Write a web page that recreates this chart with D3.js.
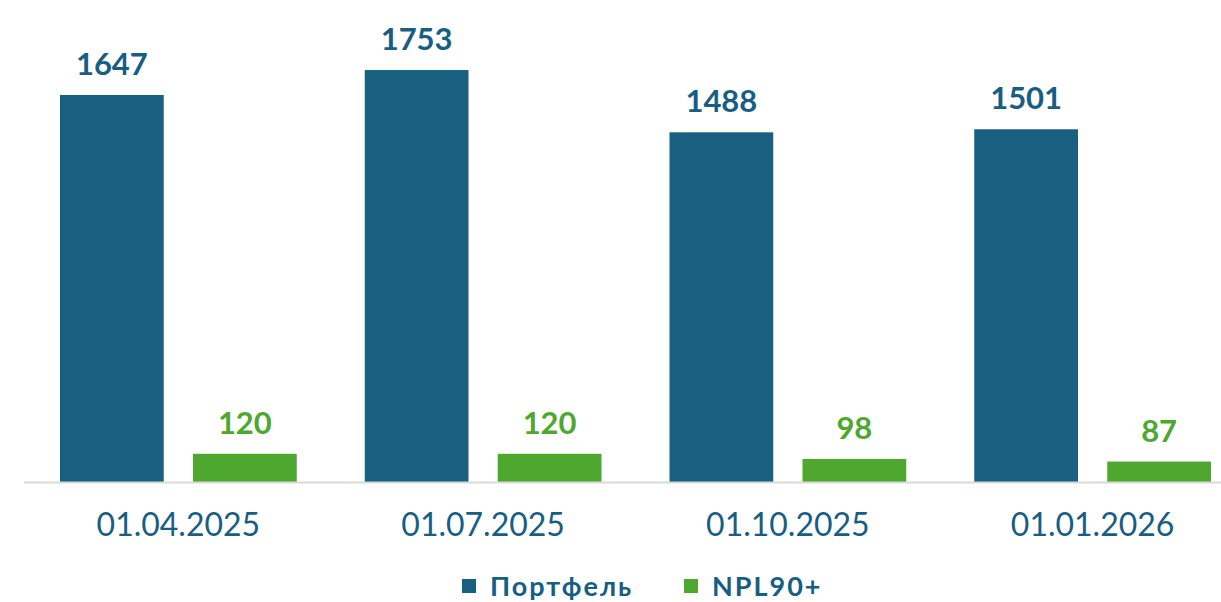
<!DOCTYPE html>
<html>
<head>
<meta charset="utf-8">
<script src="https://cdn.jsdelivr.net/npm/d3@7"></script>
<style>
  body { margin: 0; background: #fff; }
  svg { display: block; font-family: Lato, "Open Sans", sans-serif; }
</style>
</head>
<body>
<div id="chart"></div>
<script>
const categories = ['01.04.2025', '01.07.2025', '01.10.2025', '01.01.2026'];
const seriesNames = ['Портфель', 'NPL90+'];
const portfolio = [1647, 1753, 1488, 1501];
const npl = [120, 120, 98, 87];
const colors = ['#185F80', '#4EA72F'];
const labelColors = ['#175E82', '#4EA72F'];

const width = 1221, height = 602;
const baseY = 482;

const svg = d3.select('#chart').append('svg')
    .attr('width', width)
    .attr('height', height);

const x = d3.scaleBand()
    .domain(categories)
    .range([26, 1245])
    .paddingOuter(0)
    .paddingInner(0);

const xInner = d3.scaleBand()
    .domain(seriesNames)
    .range([34, x.bandwidth() - 34])
    .paddingInner(0.22);

const y = d3.scaleLinear()
    .domain([0, 1800])
    .range([baseY, 59]);

const rows = categories.map((c, i) => ({
    cat: c,
    values: [
        { name: seriesNames[0], value: portfolio[i], idx: 0 },
        { name: seriesNames[1], value: npl[i], idx: 1 }
    ]
}));

const groups = svg.append('g').selectAll('g.group')
    .data(rows)
    .join('g')
    .attr('class', 'group')
    .attr('transform', d => `translate(${x(d.cat)},0)`);

groups.selectAll('rect')
    .data(d => d.values)
    .join('rect')
    .attr('x', d => xInner(d.name))
    .attr('width', xInner.bandwidth())
    .attr('y', d => y(d.value))
    .attr('height', d => baseY - y(d.value))
    .attr('fill', d => colors[d.idx]);

groups.selectAll('text.val')
    .data(d => d.values)
    .join('text')
    .attr('class', 'val')
    .attr('x', d => xInner(d.name) + xInner.bandwidth() / 2)
    .attr('y', d => y(d.value) - 20)
    .attr('text-anchor', 'middle')
    .attr('font-size', 31)
    .attr('font-weight', 'bold')
    .attr('fill', d => labelColors[d.idx])
    .text(d => d.value);

// baseline axis
const xAxis = d3.axisBottom(x).tickSize(0);
const axisG = svg.append('g')
    .attr('transform', `translate(0,${baseY})`)
    .call(xAxis);
axisG.select('.domain')
    .attr('d', `M24,0.5H${width}`)
    .attr('stroke', '#d9d9d9')
    .attr('stroke-width', 2);
axisG.selectAll('.tick text')
    .attr('font-family', 'Lato, "Open Sans", sans-serif')
    .attr('font-size', 32)
    .attr('fill', '#175E82')
    .attr('dy', '0.71em')
    .attr('y', 31);

// legend
const legendItems = [
    { name: seriesNames[0], color: colors[0], x: 462 },
    { name: seriesNames[1], color: colors[1], x: 684 }
];
const legend = svg.append('g').selectAll('g')
    .data(legendItems)
    .join('g')
    .attr('transform', d => `translate(${d.x},579)`);
legend.append('rect')
    .attr('width', 14)
    .attr('height', 14)
    .attr('fill', d => d.color);
legend.append('text')
    .attr('x', 28)
    .attr('y', 17)
    .attr('font-size', 27)
    .attr('font-weight', 'bold')
    .attr('letter-spacing', 2)
    .attr('fill', '#175E82')
    .text(d => d.name);
</script>
</body>
</html>
